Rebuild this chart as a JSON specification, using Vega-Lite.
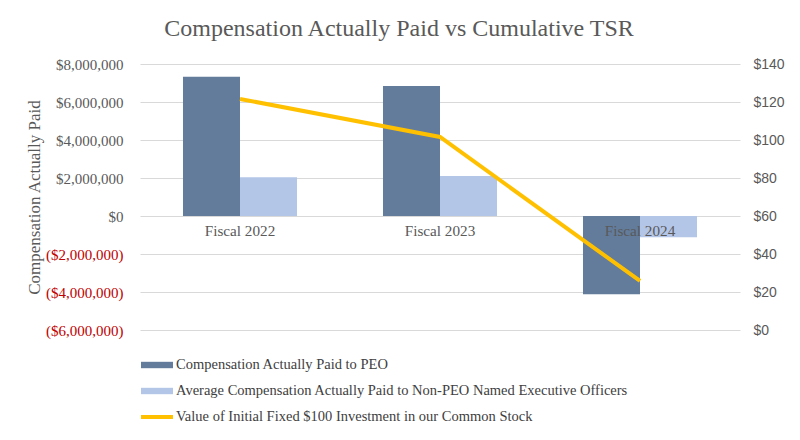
{
  "$schema": "https://vega.github.io/schema/vega-lite/v6.json",
  "width": 600,
  "height": 266,
  "autosize": {"type": "none"},
  "padding": {"left": 140, "top": 64, "right": 60, "bottom": 110},
  "background": "white",
  "title": {
    "text": "Compensation Actually Paid vs Cumulative TSR",
    "font": "Liberation Serif",
    "fontSize": 24,
    "fontWeight": "normal",
    "color": "#595959",
    "dx": -41,
    "offset": 16
  },
  "config": {
    "view": {"stroke": null},
    "legend": {
      "labelFont": "Liberation Serif",
      "labelFontSize": 14.5,
      "labelColor": "#404040",
      "labelLimit": 0,
      "rowPadding": 11,
      "labelOffset": 19,
      "symbolSize": 256
    }
  },
  "layer": [
    {
      "data": {
        "values": [
          {"year": "Fiscal 2022", "series": "Compensation Actually Paid to PEO", "value": 7330000},
          {"year": "Fiscal 2022", "series": "Average Compensation Actually Paid to Non-PEO Named Executive Officers", "value": 2040000},
          {"year": "Fiscal 2023", "series": "Compensation Actually Paid to PEO", "value": 6840000},
          {"year": "Fiscal 2023", "series": "Average Compensation Actually Paid to Non-PEO Named Executive Officers", "value": 2100000},
          {"year": "Fiscal 2024", "series": "Compensation Actually Paid to PEO", "value": -4120000},
          {"year": "Fiscal 2024", "series": "Average Compensation Actually Paid to Non-PEO Named Executive Officers", "value": -1120000}
        ]
      },
      "mark": {"type": "bar"},
      "encoding": {
        "x": {
          "field": "year",
          "type": "nominal",
          "scale": {"paddingInner": 0, "paddingOuter": 0},
          "axis": {
            "title": null,
            "labelAngle": 0,
            "orient": "bottom",
            "offset": -114,
            "domain": false,
            "ticks": false,
            "labelFont": "Liberation Serif",
            "labelFontSize": 15.2,
            "labelColor": "#595959",
            "labelPadding": 7,
            "zindex": 1
          }
        },
        "xOffset": {
          "field": "series",
          "type": "nominal",
          "scale": {
            "domain": ["Compensation Actually Paid to PEO", "Average Compensation Actually Paid to Non-PEO Named Executive Officers"],
            "paddingOuter": 0.754,
            "paddingInner": 0
          }
        },
        "y": {
          "field": "value",
          "type": "quantitative",
          "scale": {"domain": [-6000000, 8000000], "nice": false, "zero": false},
          "axis": {
            "orient": "left",
            "title": "Compensation Actually Paid",
            "titleFont": "Liberation Serif",
            "titleFontSize": 17,
            "titleFontWeight": "normal",
            "titleColor": "#595959",
            "titlePadding": 2,
            "values": [-6000000, -4000000, -2000000, 0, 2000000, 4000000, 6000000, 8000000],
            "labelExpr": "datum.value < 0 ? '($' + format(-datum.value, ',') + ')' : '$' + format(datum.value, ',')",
            "labelColor": {"condition": {"test": "datum.value < 0", "value": "#C00000"}, "value": "#595959"},
            "labelFont": "Liberation Serif",
            "labelFontSize": 15,
            "labelPadding": 17,
            "domain": false,
            "ticks": false,
            "grid": true,
            "gridColor": "#D9D9D9",
            "gridWidth": 1
          }
        },
        "color": {
          "field": "series",
          "type": "nominal",
          "scale": {
            "domain": ["Compensation Actually Paid to PEO", "Average Compensation Actually Paid to Non-PEO Named Executive Officers", "Value of Initial Fixed $100 Investment in our Common Stock"],
            "range": ["#637C9C", "#B4C6E7", "#FFC000"]
          },
          "legend": {
            "title": null,
            "orient": "none",
            "direction": "vertical",
            "legendX": 1,
            "legendY": 293,
            "encode": {
              "labels": {
                "update": {
                  "font": {"value": "Liberation Serif"},
                  "fontSize": {"value": 14.5},
                  "fill": {"value": "#404040"}
                }
              },
              "symbols": {
                "update": {
                  "shape": {"signal": "datum.value == 'Value of Initial Fixed $100 Investment in our Common Stock' ? 'M-1,-0.25H3V0.25H-1Z' : 'M-1,-0.4H3V0.4H-1Z'"},
                  "fill": {"signal": "scale('color', datum.value)"},
                  "stroke": {"value": "transparent"},
                  "strokeWidth": {"value": 0},
                  "opacity": {"value": 1},
                  "fillOpacity": {"value": 1}
                }
              }
            }
          }
        }
      }
    },
    {
      "data": {
        "values": [
          {"year": "Fiscal 2022", "series": "Value of Initial Fixed $100 Investment in our Common Stock", "value": 121.6},
          {"year": "Fiscal 2023", "series": "Value of Initial Fixed $100 Investment in our Common Stock", "value": 101.6},
          {"year": "Fiscal 2024", "series": "Value of Initial Fixed $100 Investment in our Common Stock", "value": 25.8}
        ]
      },
      "mark": {"type": "line", "strokeWidth": 4},
      "encoding": {
        "x": {"field": "year", "type": "nominal"},
        "y": {
          "field": "value",
          "type": "quantitative",
          "scale": {"domain": [0, 140], "nice": false},
          "axis": {
            "orient": "right",
            "title": null,
            "values": [0, 20, 40, 60, 80, 100, 120, 140],
            "labelExpr": "'$' + datum.value",
            "labelFont": "Liberation Sans",
            "labelFontSize": 14,
            "labelColor": "#595959",
            "labelPadding": 13,
            "domain": false,
            "ticks": false,
            "grid": false
          }
        },
        "color": {
          "field": "series",
          "type": "nominal",
          "scale": {
            "domain": ["Compensation Actually Paid to PEO", "Average Compensation Actually Paid to Non-PEO Named Executive Officers", "Value of Initial Fixed $100 Investment in our Common Stock"],
            "range": ["#637C9C", "#B4C6E7", "#FFC000"]
          }
        }
      }
    }
  ],
  "resolve": {"scale": {"y": "independent"}}
}
